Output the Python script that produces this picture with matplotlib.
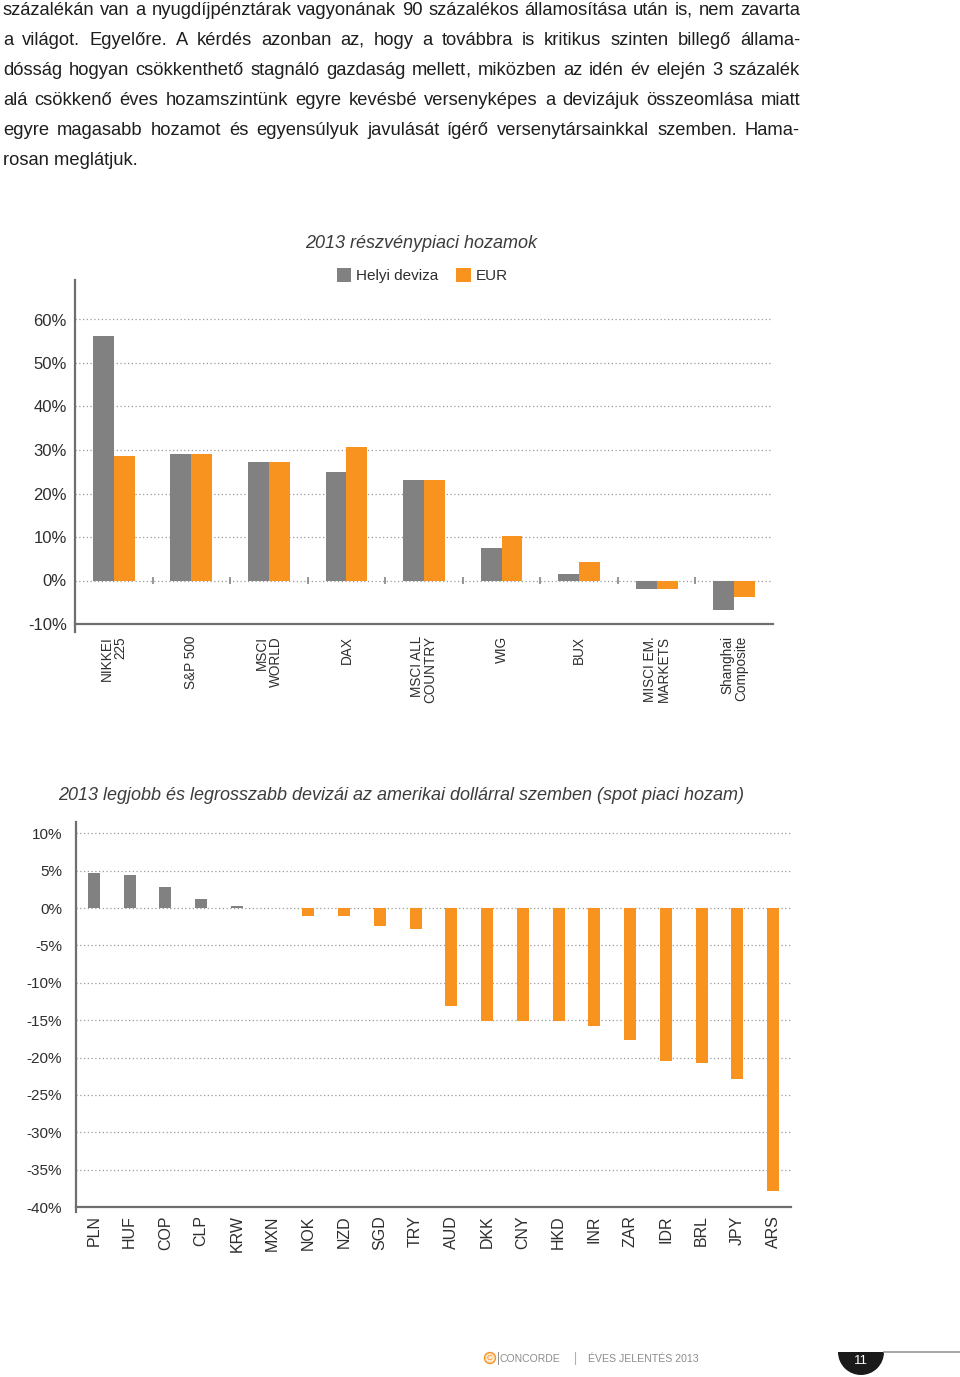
import matplotlib
matplotlib.use('Agg')
import matplotlib.pyplot as plt
from matplotlib.patches import Wedge, Circle
import numpy as np

plt.rcParams['font.family'] = ['Liberation Sans', 'DejaVu Sans']

# Page text (justified paragraph above the charts)
body_lines = [
    "százalékán van a nyugdíjpénztárak vagyonának 90 százalékos államosítása után is, nem zavarta",
    "a világot. Egyelőre. A kérdés azonban az, hogy a továbbra is kritikus szinten billegő állama-",
    "dósság hogyan csökkenthető stagnáló gazdaság mellett, miközben az idén év elején 3 százalék",
    "alá csökkenő éves hozamszintünk egyre kevésbé versenyképes a devizájuk összeomlása miatt",
    "egyre magasabb hozamot és egyensúlyuk javulását ígérő versenytársainkkal szemben. Hama-",
    "rosan meglátjuk.",
]

# Chart 1: 2013 equity market returns
indices = ["NIKKEI\n225", "S&P 500", "MSCI\nWORLD", "DAX", "MSCI ALL\nCOUNTRY",
           "WIG", "BUX", "MISCI EM.\nMARKETS", "Shanghai\nComposite"]
local_ret = [56.3, 29.1, 27.2, 24.9, 23.2, 7.5, 1.6, -1.9, -6.7]
eur_ret = [28.7, 29.1, 27.2, 30.6, 23.2, 10.3, 4.3, -1.9, -3.9]
eq_ticks = [-10, 0, 10, 20, 30, 40, 50, 60]

# Chart 2: currencies vs USD (spot)
currencies = ["PLN", "HUF", "COP", "CLP", "KRW", "MXN", "NOK", "NZD", "SGD", "TRY",
              "AUD", "DKK", "CNY", "HKD", "INR", "ZAR", "IDR", "BRL", "JPY", "ARS"]
fx_ret = [4.7, 4.4, 2.8, 1.2, 0.25, 0.05, -1.1, -1.1, -2.45, -2.75,
          -13.1, -15.1, -15.1, -15.1, -15.8, -17.6, -20.5, -20.7, -22.9, -37.9]
fx_ticks = [10, 5, 0, -5, -10, -15, -20, -25, -30, -35, -40]

GRAY = '#818181'
ORANGE = '#f7931e'
SPINE = '#6e6e6e'
TXT = '#2e2e2e'
GRID = '#9a9a9a'
BODY_COL = '#1e1e1e'

W, H = 960, 1377
fig = plt.figure(figsize=(W / 100, H / 100), dpi=100)
renderer = fig.canvas.get_renderer()

page = fig.add_axes([0, 0, 1, 1], zorder=5)
page.set_xlim(0, W)
page.set_ylim(H, 0)
page.axis('off')
page.patch.set_visible(False)


def text_width(s, size, **kw):
    t = page.text(0, 0, s, fontsize=size, **kw)
    w = t.get_window_extent(renderer).width
    t.remove()
    return w


def body_word(x, y, w):
    # words ending in a comma sit low when drawn whole, so the comma goes separately
    if w.endswith(',') and len(w) > 1:
        core = w[:-1]
        page.text(x, y, core, fontsize=BODY_SIZE, color=BODY_COL, va='baseline')
        page.text(x + text_width(core, BODY_SIZE) - 1.0, y, ',', fontsize=BODY_SIZE,
                  color=BODY_COL, va='baseline')
    else:
        page.text(x, y, w, fontsize=BODY_SIZE, color=BODY_COL, va='baseline')


# justified body text, one text per word
BODY_SIZE = 13.2
left_x, right_x = 3, 800
for i, line in enumerate(body_lines):
    y = 15 + 30 * i
    if i == len(body_lines) - 1:
        page.text(left_x, y, line, fontsize=BODY_SIZE, color=BODY_COL, va='baseline')
        continue
    words = line.split(' ')
    widths = [text_width(w, BODY_SIZE) for w in words]
    gap = (right_x - left_x - sum(widths)) / (len(words) - 1)
    x = left_x
    for w, wd in zip(words, widths):
        body_word(x, y, w)
        x += wd + gap


def px_axes(left, top, right, bottom):
    return fig.add_axes([left / W, 1 - bottom / H, (right - left) / W, (bottom - top) / H])


def style_axes(ax, pad_y, pad_x, ysize, xsize):
    for s in ['top', 'right']:
        ax.spines[s].set_visible(False)
    for s in ['left', 'bottom']:
        ax.spines[s].set_color(SPINE)
        ax.spines[s].set_linewidth(1.6)
    ax.set_axisbelow(True)
    ax.tick_params(axis='y', which='major', length=0, pad=pad_y, labelsize=ysize, labelcolor=TXT)
    ax.tick_params(axis='y', which='minor', length=7, width=1.3, color=SPINE)
    ax.tick_params(axis='x', length=0, pad=pad_x, labelsize=xsize, labelcolor=TXT)


# ---- chart 1 ----
z1, k1 = 580.5, 4.35
ylo1, yhi1 = -11.8, 69
ax1 = px_axes(75, z1 - yhi1 * k1, 773, z1 - ylo1 * k1)
x1 = np.arange(len(indices))
bw = 0.27
b_loc = ax1.bar(x1 - bw / 2, local_ret, bw, color=GRAY, label='Helyi deviza')
b_eur = ax1.bar(x1 + bw / 2, eur_ret, bw, color=ORANGE, label='EUR')
ax1.set_xlim(-0.5, len(indices) - 0.5)
ax1.set_ylim(ylo1, yhi1)
ax1.spines['bottom'].set_position(('data', -10))
ax1.set_yticks(eq_ticks)
ax1.set_yticklabels([f"{v}%" for v in eq_ticks])
ax1.set_yticks([-10], minor=True)
for v in eq_ticks[1:]:
    ax1.axhline(v, color=GRID, lw=0.9, ls=(0, (1, 2)), zorder=0)
ax1.vlines(x1[:-1] + 0.5, -0.8, 0.8, color='#7a7a7a', lw=1.1, zorder=3)
ax1.set_xticks(x1)
ax1.set_xticklabels(indices, rotation=90, va='top', ha='center')
for lab in ax1.get_xticklabels():
    lab.set_multialignment('right')
    lab.set_linespacing(0.95)
style_axes(ax1, 5.8, 8.6, 12, 9.8)

page.text(421, 243, "2013 részvénypiaci hozamok", fontsize=13, style='italic',
          color='#3c3c3c', ha='center', va='center')
ax1.legend(handles=[b_loc, b_eur], loc='center', bbox_to_anchor=(422 / W, 1 - 275.5 / H),
           bbox_transform=fig.transFigure, ncol=2, frameon=False, fontsize=11,
           handlelength=0.95, handleheight=1.0, handletextpad=0.3, columnspacing=1.2,
           borderpad=0, labelcolor=TXT)

# ---- chart 2 ----
z2, k2 = 908, 7.48
ylo2, yhi2 = -40.7, 11.5
ax2 = px_axes(76, z2 - yhi2 * k2, 791, z2 - ylo2 * k2)
x2 = np.arange(len(currencies))
cols = [GRAY if v >= 0 else ORANGE for v in fx_ret]
ax2.bar(x2, fx_ret, 0.33, color=cols)
ax2.set_xlim(-0.5, len(currencies) - 0.5)
ax2.set_ylim(ylo2, yhi2)
ax2.spines['bottom'].set_position(('data', -40))
ax2.set_yticks(fx_ticks)
ax2.set_yticklabels([f"{v}%" for v in fx_ticks])
ax2.set_yticks([-40], minor=True)
for v in fx_ticks[:-1]:
    ax2.axhline(v, color=GRID, lw=0.9, ls=(0, (1, 2)), zorder=0)
ax2.set_xticks(x2)
ax2.set_xticklabels(currencies, rotation=90, va='top', ha='center')
style_axes(ax2, 10, 5.8, 11, 11.5)

page.text(401, 795, "2013 legjobb és legrosszabb devizái az amerikai dollárral szemben (spot piaci hozam)",
          fontsize=13, style='italic', color='#3c3c3c', ha='center', va='center')

# ---- footer ----
FOOT = '#8c8c8c'
page.add_patch(Circle((490, 1358), 5.5, facecolor='#fde7cc', edgecolor=ORANGE, lw=1))
page.text(490, 1358.5, "C", fontsize=6, color=ORANGE, ha='center', va='center')
page.plot([498, 498], [1352, 1364], color=FOOT, lw=0.7)
page.text(500, 1362, "CONCORDE", fontsize=7.5, color=FOOT, va='baseline')
page.plot([575, 575], [1352, 1364], color='#b0b0b0', lw=0.8)
page.text(588, 1362, "ÉVES JELENTÉS 2013", fontsize=7.6, color=FOOT, va='baseline')

page.plot([884, 960], [1352, 1352], color='#9a9a9a', lw=1.2)
page.add_patch(Wedge((861, 1352), 23, 0, 180, facecolor='#1a1a1a', edgecolor='none'))
page.text(861, 1361, "11", fontsize=9.5, color='white', ha='center', va='center')

fig.savefig('out.png', dpi=100)
